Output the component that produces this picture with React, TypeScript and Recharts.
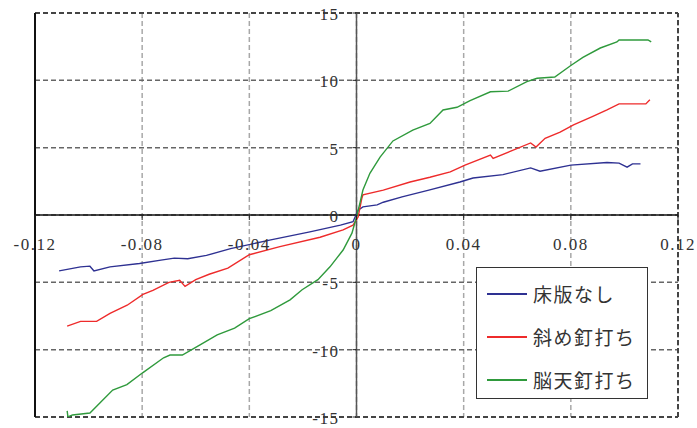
import {
  LineChart, Line,
  XAxis, YAxis, CartesianGrid,
  ReferenceLine,
} from 'recharts';

// load-displacement style curves
const floorNone = [
  { x: -0.111, y: -4.15 }, { x: -0.103, y: -3.85 }, { x: -0.0995, y: -3.8 },
  { x: -0.098, y: -4.15 }, { x: -0.092, y: -3.85 }, { x: -0.081, y: -3.6 },
  { x: -0.073, y: -3.35 }, { x: -0.068, y: -3.2 }, { x: -0.063, y: -3.25 },
  { x: -0.056, y: -3.0 }, { x: -0.047, y: -2.5 }, { x: -0.032, y: -1.85 },
  { x: -0.0174, y: -1.25 }, { x: -0.006, y: -0.75 }, { x: -0.0013, y: -0.5 },
  { x: 0.0006, y: 0.35 }, { x: 0.0024, y: 0.6 }, { x: 0.0077, y: 0.75 },
  { x: 0.01, y: 0.95 }, { x: 0.017, y: 1.35 }, { x: 0.027, y: 1.85 },
  { x: 0.0386, y: 2.45 }, { x: 0.0435, y: 2.75 }, { x: 0.0547, y: 3.0 },
  { x: 0.065, y: 3.5 }, { x: 0.0685, y: 3.25 }, { x: 0.08, y: 3.7 },
  { x: 0.0935, y: 3.9 }, { x: 0.098, y: 3.85 }, { x: 0.101, y: 3.55 },
  { x: 0.103, y: 3.8 }, { x: 0.106, y: 3.8 },
];

const slantNail = [
  { x: -0.108, y: -8.25 }, { x: -0.103, y: -7.9 }, { x: -0.097, y: -7.9 },
  { x: -0.092, y: -7.3 }, { x: -0.0856, y: -6.7 }, { x: -0.0797, y: -5.9 },
  { x: -0.076, y: -5.6 }, { x: -0.07, y: -5.0 }, { x: -0.066, y: -4.85 },
  { x: -0.064, y: -5.3 }, { x: -0.06, y: -4.8 }, { x: -0.055, y: -4.4 },
  { x: -0.048, y: -3.95 }, { x: -0.04, y: -2.95 }, { x: -0.0286, y: -2.35 },
  { x: -0.0136, y: -1.65 }, { x: -0.005, y: -1.1 }, { x: -0.0013, y: -0.75 },
  { x: 0.0006, y: -0.15 }, { x: 0.002, y: 1.25 }, { x: 0.0024, y: 1.5 },
  { x: 0.01, y: 1.85 }, { x: 0.02, y: 2.45 }, { x: 0.0274, y: 2.8 },
  { x: 0.035, y: 3.2 }, { x: 0.0405, y: 3.7 }, { x: 0.05, y: 4.45 },
  { x: 0.051, y: 4.2 }, { x: 0.065, y: 5.35 }, { x: 0.067, y: 5.05 },
  { x: 0.0704, y: 5.7 }, { x: 0.076, y: 6.15 }, { x: 0.081, y: 6.7 },
  { x: 0.088, y: 7.3 }, { x: 0.0935, y: 7.8 }, { x: 0.098, y: 8.25 },
  { x: 0.108, y: 8.25 }, { x: 0.1095, y: 8.55 },
];

const topNail = [
  { x: -0.108, y: -14.55 }, { x: -0.1077, y: -15.0 }, { x: -0.106, y: -14.85 },
  { x: -0.0995, y: -14.7 }, { x: -0.0957, y: -13.95 }, { x: -0.091, y: -13.0 },
  { x: -0.0857, y: -12.6 }, { x: -0.0797, y: -11.7 }, { x: -0.072, y: -10.6 },
  { x: -0.0696, y: -10.4 }, { x: -0.065, y: -10.4 }, { x: -0.0584, y: -9.65 },
  { x: -0.052, y: -8.9 }, { x: -0.0455, y: -8.4 }, { x: -0.04, y: -7.7 },
  { x: -0.032, y: -7.1 }, { x: -0.0248, y: -6.3 }, { x: -0.0203, y: -5.55 },
  { x: -0.0144, y: -4.8 }, { x: -0.0099, y: -3.85 }, { x: -0.005, y: -2.6 },
  { x: -0.0017, y: -1.35 }, { x: 0, y: -0.15 }, { x: 0.0013, y: 0.9 },
  { x: 0.0024, y: 1.85 }, { x: 0.005, y: 3.1 }, { x: 0.0088, y: 4.3 },
  { x: 0.0136, y: 5.5 }, { x: 0.021, y: 6.3 }, { x: 0.0274, y: 6.8 },
  { x: 0.0323, y: 7.8 }, { x: 0.0375, y: 8.0 }, { x: 0.0424, y: 8.5 },
  { x: 0.05, y: 9.15 }, { x: 0.0566, y: 9.2 }, { x: 0.0636, y: 9.9 },
  { x: 0.0674, y: 10.15 }, { x: 0.074, y: 10.25 }, { x: 0.08, y: 11.1 },
  { x: 0.0845, y: 11.7 }, { x: 0.091, y: 12.4 }, { x: 0.0972, y: 12.85 },
  { x: 0.098, y: 13.0 }, { x: 0.1088, y: 13.0 }, { x: 0.11, y: 12.85 },
];

const xTicks = [-0.12, -0.08, -0.04, 0, 0.04, 0.08, 0.12];
const yTicks = [-15, -10, -5, 0, 5, 10, 15];

const SERIES = [
  { name: '床版なし', data: floorNone, color: '#2e3192' },
  { name: '斜め釘打ち', data: slantNail, color: '#ee2b2b' },
  { name: '脳天釘打ち', data: topNail, color: '#2f9a3c' },
];

const W = 697;
const H = 428;
const M = { top: 13, right: 19, bottom: 0, left: 0 };
const X_AXIS_H = 11;
const Y_AXIS_W = 35;
const PLOT_W = W - Y_AXIS_W - M.right;
const PLOT_H = H - M.top - X_AXIS_H;
const FONT = '"Liberation Serif", "Times New Roman", serif';
const tickStyle = { fontFamily: FONT, fontSize: 17, letterSpacing: 1.5 };

// ticks drawn at the axis crossing (origin) instead of at the plot edge
const XTick = ({ x, y, payload }: any) => {
  const oy = y - PLOT_H / 2;
  return (
    <g>
      <line x1={x} x2={x} y1={oy} y2={oy + 5} stroke="#222" />
      <text x={x} y={oy + 35} textAnchor="middle" style={tickStyle} fill="#333">
        {payload.value}
      </text>
    </g>
  );
};

const YTick = ({ x, y, payload }: any) => {
  const ox = x + PLOT_W / 2;
  return (
    <g>
      <line x1={ox - 4} x2={ox} y1={y} y2={y} stroke="#222" />
      <text x={ox - 17} y={y + 7} textAnchor="end" style={tickStyle} fill="#333">
        {payload.value}
      </text>
    </g>
  );
};

const LegendBox = () => (
  <div style={{
    position: 'absolute', left: 476, top: 267,
    width: 170, height: 126, border: '1.5px solid #333', background: '#fff',
    paddingTop: 4,
  }}>
    {SERIES.map(s => (
      <div key={s.name} style={{ display: 'flex', alignItems: 'center', height: 43 }}>
        <div style={{ width: 40, height: 0, borderTop: `2px solid ${s.color}`, marginLeft: 10, marginRight: 6 }} />
        <span style={{
          fontFamily: '"Noto Sans CJK JP", sans-serif', fontSize: 19,
          letterSpacing: 1.5, color: '#333', lineHeight: '20px',
        }}>{s.name}</span>
      </div>
    ))}
  </div>
);

export default function App() {
  return (
    <div style={{ position: 'absolute', left: 0, top: 0, width: W, height: H, background: '#fff' }}>
      <LineChart width={W} height={H} margin={M}>
        <CartesianGrid horizontal={false} stroke="#a8a8a8" strokeDasharray="5 3" strokeWidth={1.5} />
        <CartesianGrid vertical={false} stroke="#666" strokeDasharray="5 3" strokeWidth={1.5} />
        <XAxis dataKey="x" type="number" domain={[-0.12, 0.12]} ticks={xTicks}
          allowDataOverflow height={X_AXIS_H} axisLine={false} tickLine={false}
          tickSize={0} tickMargin={0} tick={<XTick />} interval={0} />
        <YAxis type="number" domain={[-15, 15]} ticks={yTicks} allowDataOverflow
          width={Y_AXIS_W} axisLine={false} tickLine={false} tickSize={0} tickMargin={0}
          tick={<YTick />} interval={0} />
        <ReferenceLine y={15} stroke="#444" strokeDasharray="5 3" strokeWidth={2} />
        <ReferenceLine y={-15} stroke="#444" strokeDasharray="5 3" strokeWidth={2} />
        <ReferenceLine x={0.12} stroke="#444" strokeDasharray="5 3" strokeWidth={2} />
        <ReferenceLine x={-0.12} stroke="#111" strokeWidth={2} />
        <ReferenceLine y={0} stroke="#111" strokeWidth={1.5} />
        <ReferenceLine x={0} stroke="#555" strokeWidth={1.5} />
        {SERIES.map(s => (
          <Line key={s.name} data={s.data} dataKey="y" name={s.name}
            type="linear" stroke={s.color} strokeWidth={1.4} dot={false}
            isAnimationActive={false} />
        ))}
      </LineChart>
      <LegendBox />
    </div>
  );
}
